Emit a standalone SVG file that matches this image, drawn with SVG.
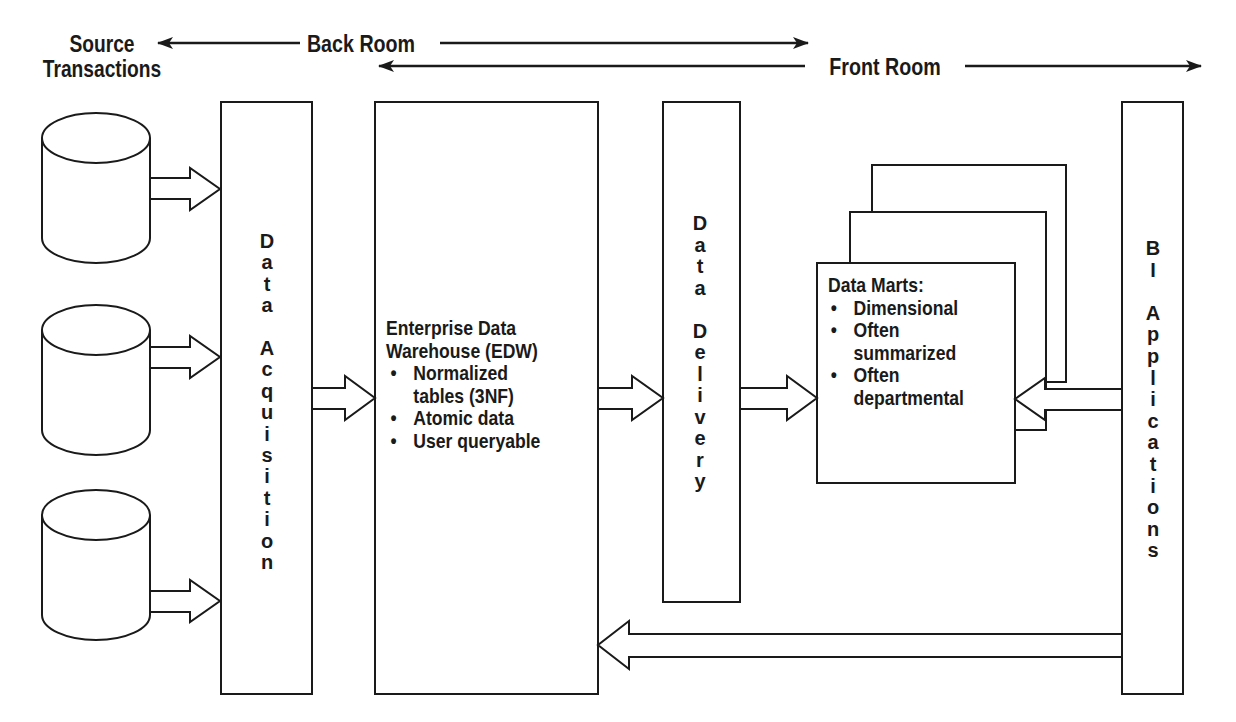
<svg xmlns="http://www.w3.org/2000/svg" width="1236" height="722" viewBox="0 0 1236 722">
<style>
.s{fill:#fff;stroke:#1a1a1a;stroke-width:2}
.t{font-family:"Liberation Sans",Arial,sans-serif;font-weight:bold;fill:#1a1a1a}
.h{font-size:24px}
.b{font-size:20px}
.v{font-size:20px;text-anchor:middle}
.ln{stroke:#1a1a1a;stroke-width:2.5;fill:none}
</style>
<defs>
<marker id="ah" viewBox="0 0 16 12" refX="15" refY="6" markerWidth="16" markerHeight="12" markerUnits="userSpaceOnUse" orient="auto"><path d="M0,0 L16,6 L0,12 L4,6 Z" fill="#1a1a1a"/></marker>
<path id="cyl" d="M0,25 A54,25 0 0 1 108,25 L108,125 A54,25 0 0 1 0,125 Z M0,25 A54,25 0 0 0 108,25"/>
</defs>
<g id="header">
<g transform="translate(102 0) scale(0.8 1)"><text class="t h" x="0" y="52" text-anchor="middle">Source</text>
<text class="t h" x="0" y="77" text-anchor="middle">Transactions</text></g>
<g transform="translate(361 0) scale(0.82 1)"><text class="t h" x="0" y="52" text-anchor="middle">Back Room</text></g>
<g transform="translate(885 0) scale(0.82 1)"><text class="t h" x="0" y="75" text-anchor="middle">Front Room</text></g>
</g>
<g id="sources">
<use href="#cyl" class="s" x="42" y="113"/>
<use href="#cyl" class="s" x="42" y="305"/>
<use href="#cyl" class="s" x="42" y="490"/>
</g>
<g id="acq"><rect class="s" x="221" y="102" width="91" height="592"/>
<text class="t v"><tspan x="267" y="248">D</tspan><tspan x="267" dy="21.4">a</tspan><tspan x="267" dy="21.4">t</tspan><tspan x="267" dy="21.4">a</tspan><tspan x="267" dy="42.8">A</tspan><tspan x="267" dy="21.4">c</tspan><tspan x="267" dy="21.4">q</tspan><tspan x="267" dy="21.4">u</tspan><tspan x="267" dy="21.4">i</tspan><tspan x="267" dy="21.4">s</tspan><tspan x="267" dy="21.4">i</tspan><tspan x="267" dy="21.4">t</tspan><tspan x="267" dy="21.4">i</tspan><tspan x="267" dy="21.4">o</tspan><tspan x="267" dy="21.4">n</tspan></text></g>
<g id="edw"><rect class="s" x="375" y="102" width="223" height="592"/>
<g transform="translate(386 0) scale(0.88 1)"><text class="t b"><tspan x="0" y="335">Enterprise Data</tspan><tspan x="0" dy="22.6">Warehouse (EDW)</tspan><tspan x="5" dy="22.6">•</tspan><tspan x="31">Normalized</tspan><tspan x="31" dy="22.6">tables (3NF)</tspan><tspan x="5" dy="22.6">•</tspan><tspan x="31">Atomic data</tspan><tspan x="5" dy="22.6">•</tspan><tspan x="31">User queryable</tspan></text></g></g>
<g id="delivery"><rect class="s" x="663" y="102" width="77" height="500"/>
<text class="t v"><tspan x="700" y="230">D</tspan><tspan x="700" dy="21.5">a</tspan><tspan x="700" dy="21.5">t</tspan><tspan x="700" dy="21.5">a</tspan><tspan x="700" dy="43">D</tspan><tspan x="700" dy="21.5">e</tspan><tspan x="700" dy="21.5">l</tspan><tspan x="700" dy="21.5">i</tspan><tspan x="700" dy="21.5">v</tspan><tspan x="700" dy="21.5">e</tspan><tspan x="700" dy="21.5">r</tspan><tspan x="700" dy="21.5">y</tspan></text></g>
<g id="marts">
<rect class="s" x="872" y="165" width="194" height="217"/>
<rect class="s" x="850" y="212" width="196" height="218"/>
<rect class="s" x="817" y="263" width="198" height="220"/>
<g transform="translate(828 0) scale(0.88 1)"><text class="t b"><tspan x="0" y="292">Data Marts:</tspan><tspan x="3" dy="22.6">•</tspan><tspan x="29">Dimensional</tspan><tspan x="3" dy="22.6">•</tspan><tspan x="29">Often</tspan><tspan x="29" dy="22.6">summarized</tspan><tspan x="3" dy="22.6">•</tspan><tspan x="29">Often</tspan><tspan x="29" dy="22.6">departmental</tspan></text></g></g>
<g id="bi"><rect class="s" x="1122" y="102" width="61" height="592"/>
<text class="t v"><tspan x="1153" y="255">B</tspan><tspan x="1153" dy="21.6">I</tspan><tspan x="1153" dy="43.2">A</tspan><tspan x="1153" dy="21.6">p</tspan><tspan x="1153" dy="21.6">p</tspan><tspan x="1153" dy="21.6">l</tspan><tspan x="1153" dy="21.6">i</tspan><tspan x="1153" dy="21.6">c</tspan><tspan x="1153" dy="21.6">a</tspan><tspan x="1153" dy="21.6">t</tspan><tspan x="1153" dy="21.6">i</tspan><tspan x="1153" dy="21.6">o</tspan><tspan x="1153" dy="21.6">n</tspan><tspan x="1153" dy="21.6">s</tspan></text></g>
<g id="connectors">
<line class="ln" x1="300" y1="43" x2="158" y2="43" marker-end="url(#ah)"/>
<line class="ln" x1="440" y1="43" x2="808" y2="43" marker-end="url(#ah)"/>
<line class="ln" x1="805" y1="66" x2="379" y2="66" marker-end="url(#ah)"/>
<line class="ln" x1="965" y1="66" x2="1201" y2="66" marker-end="url(#ah)"/>
<polygon class="s" points="150,178 190,178 190,168 220,189 190,210 190,199 150,199"/>
<polygon class="s" points="150,347 190,347 190,336 220,357 190,378 190,368 150,368"/>
<polygon class="s" points="150,591 190,591 190,580 220,601 190,622 190,612 150,612"/>
<polygon class="s" points="312,388 345,388 345,376 375,398 345,420 345,409 312,409"/>
<polygon class="s" points="598,388 632,388 632,376 663,398 632,420 632,409 598,409"/>
<polygon class="s" points="740,388 787,388 787,376 817,398 787,420 787,409 740,409"/>
<polygon class="s" points="1122,389 1045,389 1045,378 1015,399 1045,420 1045,410 1122,410"/>
<polygon class="s" points="1122,634 629,634 629,621 598,645 629,669 629,657 1122,657"/>
</g>
</svg>
